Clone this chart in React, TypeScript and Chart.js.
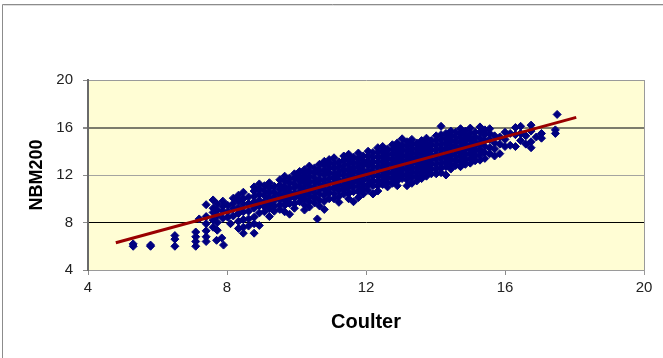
import React, { useEffect, useRef } from "react";
import { Chart, registerables } from "chart.js";

Chart.register(...registerables);

// Axis tick values
const xTickValues = [4, 8, 12, 16, 20];
const yTickValues = [4, 8, 12, 16, 20];

// Trend line end points (Coulter, NBM200)
const trendCoulter = [4.8, 18.05];
const trendNbm = [6.3, 16.85];

// Scatter data: each row is [Coulter, NBM200 values at that Coulter reading...]
const lowTail: number[][] = [
  [5.3, 6.2, 6.0],
  [5.8, 6.1, 6.0],
  [6.5, 6.9, 6.6, 6.0],
  [7.1, 7.2, 6.8, 6.4, 6.0],
  [7.2, 8.3],
  [7.4, 9.5, 8.5, 7.9, 7.3, 6.8, 6.4],
  [7.7, 6.5],
  [7.85, 6.7],
  [7.9, 6.1],
  [8.1, 7.9],
];

const bandA: number[][] = [
  [7.6, 9.9, 9.2, 8.85, 8.2, 7.6],
  [7.72, 9.55, 9.05, 8.6, 8.0, 7.35],
  [7.88, 9.8, 9.35, 8.95, 8.35],
  [8.02, 9.45, 8.9, 8.45],
  [8.18, 10.05, 9.6, 9.15, 8.55],
  [8.33, 10.3, 9.85, 9.25, 8.75, 8.1, 7.5],
  [8.47, 10.55, 10.0, 9.55, 8.9, 8.25, 7.6, 7.1],
  [8.62, 10.15, 9.6, 8.95, 8.3, 7.7],
  [8.78, 11.0, 10.65, 10.2, 9.75, 9.2, 8.45, 7.9, 7.1],
  [8.93, 11.25, 10.8, 10.35, 9.85, 9.4, 8.8, 7.75],
];

const bandB: number[][] = [
  [9.08, 11.1, 10.65, 10.25, 9.75, 9.35, 8.9],
  [9.22, 11.35, 10.95, 10.5, 10.05, 9.6, 9.15, 8.5],
  [9.36, 11.05, 10.6, 10.2, 9.85, 9.4, 8.95],
  [9.52, 11.6, 11.15, 10.85, 10.4, 9.95, 9.5, 9.1],
  [9.66, 11.9, 11.5, 11.05, 10.7, 10.3, 9.85, 9.45, 8.9],
  [9.8, 11.75, 11.35, 10.9, 10.5, 10.05, 9.6, 8.7],
  [9.94, 12.1, 11.7, 11.25, 10.9, 10.45, 10.1, 9.6, 9.2],
  [10.09, 12.3, 11.9, 11.5, 11.05, 10.6, 10.2, 9.75],
  [10.23, 12.45, 12.1, 11.7, 11.3, 10.85, 10.4, 10.0, 9.5, 9.05],
  [10.37, 12.75, 12.3, 11.9, 11.45, 11.1, 10.65, 10.25, 9.8, 9.3],
  [10.52, 12.6, 12.2, 11.75, 11.4, 10.95, 10.5, 10.1, 9.65],
  [10.6, 8.3],
  [10.66, 12.9, 12.45, 12.1, 11.65, 11.25, 10.8, 10.4, 9.9, 9.4],
  [10.8, 13.15, 12.8, 12.35, 12.0, 11.55, 11.2, 10.75, 10.3, 9.8, 9.1],
  [10.94, 13.3, 12.95, 12.55, 12.15, 11.7, 11.3, 10.85, 10.5, 10.0],
];

const bandC: number[][] = [
  [11.08, 13.45, 13.0, 12.6, 12.1, 11.75, 11.3, 10.9, 10.45, 10.0],
  [11.22, 13.1, 12.7, 12.3, 11.95, 11.5, 11.1, 10.7, 10.2, 9.7],
  [11.36, 13.6, 13.25, 12.8, 12.4, 12.0, 11.6, 11.15, 10.8, 10.4],
  [11.5, 13.75, 13.3, 12.95, 12.5, 12.1, 11.7, 11.3, 10.9, 10.45, 10.0],
  [11.64, 13.5, 13.1, 12.7, 12.3, 11.9, 11.45, 11.05, 10.6, 9.75],
  [11.78, 13.85, 13.4, 13.0, 12.6, 12.2, 11.8, 11.4, 11.0, 10.6, 10.1],
  [11.92, 13.6, 13.2, 12.8, 12.35, 11.95, 11.6, 11.2, 10.8, 10.4],
  [12.06, 14.0, 13.6, 13.2, 12.85, 12.4, 12.0, 11.6, 11.15, 10.7],
  [12.2, 13.9, 13.5, 13.1, 12.7, 12.3, 11.9, 11.5, 11.1, 10.4],
  [12.34, 14.3, 13.9, 13.5, 13.1, 12.7, 12.3, 11.9, 11.45, 11.1, 10.65],
  [12.48, 14.4, 14.0, 13.6, 13.2, 12.8, 12.4, 12.0, 11.6, 11.2],
  [12.62, 14.2, 13.8, 13.4, 13.0, 12.6, 12.2, 11.8, 11.4, 11.0],
  [12.76, 14.55, 14.1, 13.7, 13.3, 12.9, 12.5, 12.1, 11.7, 11.3],
  [12.9, 14.7, 14.3, 13.9, 13.5, 13.1, 12.7, 12.3, 11.9, 11.5, 11.1],
];

const bandD: number[][] = [
  [13.04, 15.05, 14.5, 14.1, 13.7, 13.3, 12.9, 12.5, 12.1, 11.7],
  [13.18, 14.8, 14.4, 14.0, 13.6, 13.2, 12.8, 12.4, 12.0, 11.6, 11.1],
  [13.32, 15.0, 14.6, 14.2, 13.8, 13.4, 13.0, 12.6, 12.2, 11.8, 11.3],
  [13.46, 14.7, 14.3, 13.9, 13.5, 13.1, 12.7, 12.3, 11.9, 11.5],
  [13.6, 14.9, 14.5, 14.1, 13.7, 13.3, 12.9, 12.5, 12.1, 11.7],
  [13.74, 15.1, 14.7, 14.3, 13.9, 13.5, 13.1, 12.7, 12.3, 11.9],
  [13.88, 14.9, 14.5, 14.1, 13.7, 13.3, 12.9, 12.5, 12.1],
  [14.02, 15.3, 14.9, 14.5, 14.1, 13.7, 13.3, 12.9, 12.5, 12.1],
  [14.16, 16.1, 15.4, 15.0, 14.6, 14.2, 13.8, 13.4, 13.0, 12.6, 12.2],
  [14.3, 15.5, 15.1, 14.7, 14.3, 13.9, 13.5, 13.1, 12.7, 12.0],
  [14.44, 15.7, 15.3, 14.9, 14.5, 14.1, 13.7, 13.3, 12.9, 12.5],
  [14.58, 15.6, 15.2, 14.8, 14.4, 14.0, 13.6, 13.2, 12.8],
  [14.72, 15.9, 15.5, 15.1, 14.7, 14.3, 13.9, 13.5, 13.1, 12.7],
  [14.86, 15.7, 15.3, 14.9, 14.5, 14.1, 13.7, 13.3, 12.9],
  [15.0, 15.95, 15.5, 15.05, 14.6, 14.2, 13.8, 13.4, 13.0],
];

const bandE: number[][] = [
  [15.14, 15.6, 15.2, 14.8, 14.4, 14.0, 13.6, 13.2],
  [15.28, 16.05, 15.6, 15.1, 14.6, 14.1, 13.7, 13.25],
  [15.42, 15.8, 15.4, 14.9, 14.4, 13.9, 13.4],
  [15.56, 15.9, 15.5, 15.0, 14.3, 13.8],
  [15.7, 15.3, 14.7, 14.2, 13.6],
  [15.85, 15.2, 14.6, 13.8],
  [16.0, 15.6, 15.0, 14.4],
  [16.15, 15.5, 14.5],
  [16.3, 16.0, 15.4, 14.4],
  [16.45, 16.1, 15.5, 14.9],
  [16.6, 15.3, 14.6],
  [16.75, 16.2, 15.7, 14.8, 14.3],
  [16.9, 15.2],
  [17.05, 15.5, 15.1],
  [17.45, 15.8, 15.5],
  [17.5, 17.1],
];

const gridColors: Record<number, string> = {
  4: "rgba(0,0,0,0)",
  8: "#000000",
  12: "#a4a4a0",
  16: "#7c7c6c",
  20: "#9a9a9a",
};
const gridWidths: Record<number, number> = { 4: 1, 8: 1, 12: 1, 16: 2, 20: 1 };

const FONT = "'Liberation Sans', Arial, sans-serif";

export default function App() {
  const canvasRef = useRef<HTMLCanvasElement | null>(null);

  useEffect(() => {
    document.body.style.margin = "0";
    const canvas = canvasRef.current;
    if (!canvas) return;

    const rows = [...lowTail, ...bandA, ...bandB, ...bandC, ...bandD, ...bandE];
    const points = rows.flatMap((r) => r.slice(1).map((y) => ({ x: r[0], y })));
    const trend = trendCoulter.map((x, i) => ({ x, y: trendNbm[i] }));

    const framePlugin = {
      id: "frame",
      beforeDraw(chart: any) {
        const { ctx, chartArea: a } = chart;
        ctx.save();
        ctx.fillStyle = "#ffffff";
        ctx.fillRect(0, 0, chart.width, chart.height);
        ctx.fillStyle = "#fffdd4";
        ctx.fillRect(a.left, a.top, a.right - a.left, a.bottom - a.top);
        // outer frame
        ctx.strokeStyle = "#8c8c8c";
        ctx.lineWidth = 1;
        ctx.beginPath();
        ctx.moveTo(2.5, chart.height);
        ctx.lineTo(2.5, 4.5);
        ctx.lineTo(chart.width, 4.5);
        ctx.stroke();
        ctx.strokeStyle = "#dedede";
        ctx.beginPath();
        ctx.moveTo(3.5, 5.5);
        ctx.lineTo(chart.width, 5.5);
        ctx.stroke();
        ctx.restore();
      },
      afterDraw(chart: any) {
        const { ctx, chartArea: a } = chart;
        ctx.save();
        ctx.strokeStyle = "#9a9a9a";
        ctx.lineWidth = 1;
        ctx.beginPath();
        ctx.moveTo(a.right + 0.5, a.top);
        ctx.lineTo(a.right + 0.5, a.bottom + 5);
        ctx.stroke();
        ctx.restore();
      },
    };

    const chart = new Chart(canvas, {
      type: "scatter",
      data: {
        datasets: [
          {
            type: "line",
            label: "Trend",
            data: trend,
            borderColor: "#9a0000",
            borderWidth: 3,
            pointRadius: 0,
            fill: false,
            order: 0,
          } as any,
          {
            label: "NBM200 vs Coulter",
            data: points,
            backgroundColor: "#000080",
            borderColor: "#000080",
            borderWidth: 1,
            pointStyle: "rectRot",
            pointRadius: 4,
            order: 1,
          },
        ],
      },
      options: {
        animation: false,
        responsive: true,
        maintainAspectRatio: false,
        layout: { padding: { top: 80, right: 19, left: 0, bottom: 0 } },
        plugins: {
          legend: { display: false },
          tooltip: { enabled: false },
        },
        scales: {
          x: {
            type: "linear",
            min: 4,
            max: 20,
            afterFit: (s: any) => {
              s.height = 88;
            },
            afterBuildTicks: (s: any) => {
              s.ticks = xTickValues.map((v) => ({ value: v }));
            },
            ticks: {
              color: "#222222",
              font: { family: FONT, size: 15 },
              padding: 4,
              maxRotation: 0,
            },
            grid: {
              drawOnChartArea: false,
              tickLength: 5,
              tickColor: "#8a8a8a",
            },
            border: { color: "#9a9a9a", width: 1 },
            title: {
              display: true,
              text: "Coulter",
              color: "#000000",
              font: { family: FONT, size: 20, weight: "bold" },
              padding: { top: 0, bottom: 23.5 },
            },
          },
          y: {
            type: "linear",
            min: 4,
            max: 20,
            afterFit: (s: any) => {
              s.width = 88;
            },
            afterBuildTicks: (s: any) => {
              s.ticks = yTickValues.map((v) => ({ value: v }));
            },
            ticks: {
              color: "#222222",
              font: { family: FONT, size: 15 },
              padding: 10,
            },
            grid: {
              color: (c: any) => gridColors[c.tick?.value] ?? "#999",
              lineWidth: (c: any) => gridWidths[c.tick?.value] ?? 1,
              tickLength: 5,
              tickColor: "#8a8a8a",
            },
            border: { color: "#6a6a6a", width: 2 },
            title: {
              display: true,
              text: "NBM200",
              color: "#000000",
              font: { family: FONT, size: 18, weight: "bold" },
              padding: { top: 26, bottom: 0 },
            },
          },
        },
      },
      plugins: [framePlugin],
    });

    return () => chart.destroy();
  }, []);

  return (
    <div style={{ position: "relative", width: 663, height: 358 }}>
      <canvas ref={canvasRef} />
    </div>
  );
}
